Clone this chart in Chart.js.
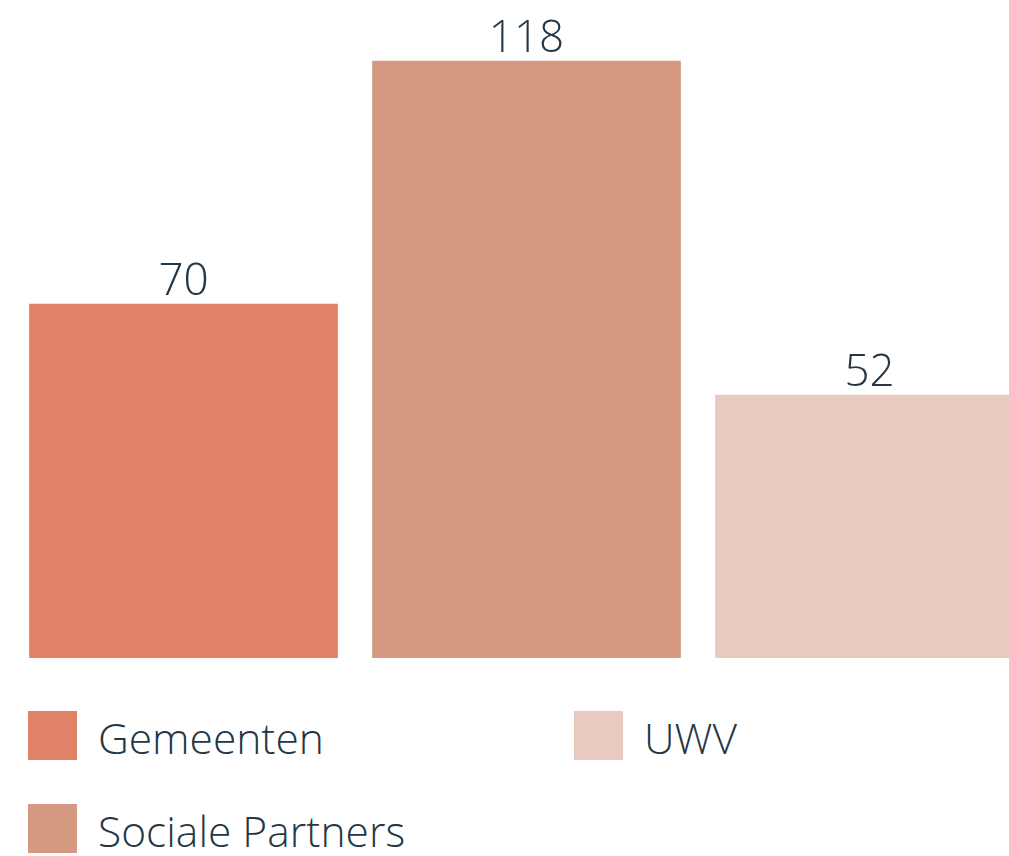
<!DOCTYPE html>
<html>
<head>
<meta charset="utf-8">
<script src="https://cdn.jsdelivr.net/npm/chart.js@4.4.0/dist/chart.umd.min.js"></script>
<style>
  html, body {
    margin: 0;
    padding: 0;
    background: #ffffff;
    width: 1009px;
    height: 856px;
    overflow: hidden;
  }
  #wrap {
    position: absolute;
    left: 0;
    top: 0;
  }
  #legend {
    position: absolute;
    left: 28px;
    top: 711px;
    display: grid;
    grid-template-columns: 546px 400px;
    grid-template-rows: 93px 93px;
    grid-auto-flow: column;
    font-family: "Open Sans Light", "Open Sans", sans-serif;
    font-weight: 300;
    font-size: 42.5px;
    color: #243746;
  }
  .item {
    display: flex;
    align-items: flex-start;
    height: 49px;
  }
  .box {
    width: 49px;
    height: 49px;
    flex: none;
  }
  .txt {
    margin-left: 21px;
    line-height: 53px;
    white-space: nowrap;
  }
</style>
</head>
<body>
<div id="wrap"><canvas id="myChart" width="1041" height="658"></canvas></div>
<div id="legend"></div>

<script>
const categories = ["Gemeenten", "Sociale Partners", "UWV"];
const values = [70, 118, 52];
const barColors = ["#E08268", "#D49980", "#E8CABF"];

// value labels above the bars
const valueLabels = {
  id: "valueLabels",
  afterDatasetsDraw(chart) {
    const ctx = chart.ctx;
    const meta = chart.getDatasetMeta(0);
    ctx.save();
    ctx.font = "300 44px 'Open Sans Light', 'Open Sans', sans-serif";
    ctx.fillStyle = "#243746";
    ctx.textAlign = "center";
    ctx.textBaseline = "alphabetic";
    meta.data.forEach((bar, i) => {
      ctx.fillText(String(chart.data.datasets[0].data[i]), bar.x, bar.y - 9);
    });
    ctx.restore();
  },
};

function setupGraph() {
  const data = {
    labels: categories,
    datasets: [
      {
        label: "Aantal",
        data: values,
        backgroundColor: barColors,
        borderWidth: 0,
        barPercentage: 0.9,
        categoryPercentage: 1,
      },
    ],
  };
  const config = {
    type: "bar",
    data: data,
    options: {
      responsive: false,
      animation: false,
      layout: {
        padding: { left: 12, right: 0, top: 0, bottom: 0 },
      },
      plugins: {
        legend: { display: false },
        tooltip: { enabled: false },
      },
      scales: {
        x: { display: false },
        y: { display: false, min: 0, max: 130 },
      },
    },
    plugins: [valueLabels],
  };

  const myChart = new Chart(document.getElementById("myChart"), config);

  // legend in two columns, filled top to bottom
  const legend = document.getElementById("legend");
  myChart.data.labels.forEach((label, i) => {
    const item = document.createElement("div");
    item.className = "item";
    const box = document.createElement("div");
    box.className = "box";
    box.style.background = myChart.data.datasets[0].backgroundColor[i];
    const txt = document.createElement("div");
    txt.className = "txt";
    txt.textContent = label;
    item.appendChild(box);
    item.appendChild(txt);
    legend.appendChild(item);
  });
}

setupGraph();
</script>
</body>
</html>
